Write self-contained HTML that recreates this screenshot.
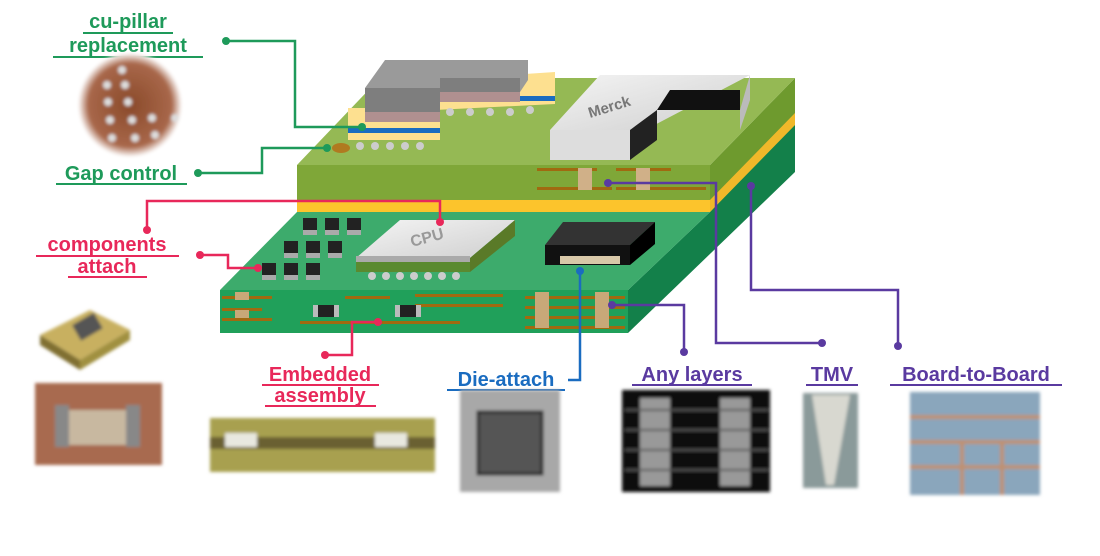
<!DOCTYPE html>
<html><head><meta charset="utf-8"><style>
html,body{margin:0;padding:0;background:#fff;}
svg{display:block}
text{font-family:"Liberation Sans",sans-serif;font-weight:bold;}
</style></head><body>
<svg width="1100" height="556" viewBox="0 0 1100 556" xmlns="http://www.w3.org/2000/svg">
<defs>
<radialGradient id="cu" cx="50%" cy="50%" r="50%"><stop offset="0" stop-color="#8a4a2a"/><stop offset="0.8" stop-color="#a8674a"/><stop offset="1" stop-color="#fff"/></radialGradient>
<linearGradient id="wt" x1="0" y1="0" x2="1" y2="1"><stop offset="0" stop-color="#f4f4f4"/><stop offset="1" stop-color="#cfcfcf"/></linearGradient>
<filter id="bl"><feGaussianBlur stdDeviation="1.5"/></filter>
</defs>

<!-- lower board -->
<polygon points="628,290 628,333 795,172 795,120 710,212" fill="#13804a"/>
<polygon points="220,290 628,290 710,212 297,212" fill="#3dab6c"/>
<rect x="220" y="290" width="408" height="43" fill="#20a05a"/>
<g fill="#a06a10">
<rect x="222" y="296" width="50" height="3"/><rect x="222" y="318" width="50" height="3"/><rect x="222" y="308" width="40" height="3"/>
<rect x="345" y="296" width="45" height="3"/><rect x="415" y="294" width="88" height="3"/><rect x="415" y="304" width="88" height="3"/>
<rect x="300" y="321" width="160" height="3"/><rect x="525" y="296" width="100" height="3"/><rect x="525" y="306" width="100" height="3"/>
<rect x="525" y="316" width="100" height="3"/><rect x="525" y="326" width="100" height="3"/></g>
<g fill="#c8a878"><rect x="235" y="292" width="14" height="8"/><rect x="235" y="310" width="14" height="8"/>
<rect x="535" y="292" width="14" height="36"/><rect x="595" y="292" width="14" height="36"/></g>
<rect x="318" y="305" width="16" height="12" fill="#222"/><rect x="313" y="305" width="5" height="12" fill="#bbb"/><rect x="334" y="305" width="5" height="12" fill="#bbb"/>
<rect x="400" y="305" width="16" height="12" fill="#222"/><rect x="395" y="305" width="5" height="12" fill="#bbb"/><rect x="416" y="305" width="5" height="12" fill="#bbb"/>
<g>
<rect x="303" y="218" width="14" height="12" fill="#222"/><rect x="325" y="218" width="14" height="12" fill="#222"/><rect x="347" y="218" width="14" height="12" fill="#222"/>
<rect x="284" y="241" width="14" height="12" fill="#222"/><rect x="306" y="241" width="14" height="12" fill="#222"/><rect x="328" y="241" width="14" height="12" fill="#222"/>
<rect x="262" y="263" width="14" height="12" fill="#222"/><rect x="284" y="263" width="14" height="12" fill="#222"/><rect x="306" y="263" width="14" height="12" fill="#222"/>
<rect x="303" y="230" width="14" height="5" fill="#aaa"/><rect x="325" y="230" width="14" height="5" fill="#aaa"/><rect x="347" y="230" width="14" height="5" fill="#aaa"/>
<rect x="284" y="253" width="14" height="5" fill="#aaa"/><rect x="306" y="253" width="14" height="5" fill="#aaa"/><rect x="328" y="253" width="14" height="5" fill="#aaa"/>
<rect x="262" y="275" width="14" height="5" fill="#aaa"/><rect x="284" y="275" width="14" height="5" fill="#aaa"/><rect x="306" y="275" width="14" height="5" fill="#aaa"/>
</g>
<!-- CPU -->
<polygon points="356,258 470,258 470,272 356,272" fill="#5a8a30"/>
<polygon points="356,258 470,258 515,220 400,220" fill="url(#wt)"/>
<polygon points="470,258 515,220 515,236 470,272" fill="#5a7a28"/>
<rect x="356" y="256" width="114" height="6" fill="#aaa"/>
<text x="412" y="247" font-size="16" fill="#999" transform="rotate(-15 412 247)">CPU</text>
<g fill="#ccc"><circle cx="372" cy="276" r="4"/><circle cx="386" cy="276" r="4"/><circle cx="400" cy="276" r="4"/><circle cx="414" cy="276" r="4"/><circle cx="428" cy="276" r="4"/><circle cx="442" cy="276" r="4"/><circle cx="456" cy="276" r="4"/></g>
<!-- black chip -->
<polygon points="545,245 630,245 655,222 563,222" fill="#333"/>
<rect x="545" y="245" width="85" height="20" fill="#111"/>
<polygon points="630,245 655,222 655,244 630,265" fill="#000"/>
<rect x="560" y="256" width="60" height="8" fill="#d8c8a8"/>

<!-- upper board -->
<polygon points="710,165 710,212 795,125 795,78" fill="#6e9a2e"/>
<polygon points="710,200 710,212 795,125 795,113" fill="#f0b82a"/>
<polygon points="297,165 710,165 795,78 380,78" fill="#95b954"/>
<rect x="297" y="165" width="413" height="36" fill="#7fa738"/>
<rect x="297" y="200" width="413" height="12" fill="#fcc42c"/>
<g fill="#a06a10"><rect x="537" y="187" width="75" height="3"/><rect x="616" y="187" width="90" height="3"/><rect x="537" y="168" width="60" height="3"/><rect x="616" y="168" width="55" height="3"/></g>
<rect x="578" y="168" width="14" height="22" fill="#d0b088"/><rect x="636" y="168" width="14" height="22" fill="#d0b088"/>
<!-- Merck -->
<polygon points="550,160 630,160 630,130 550,130" fill="#ddd"/>
<polygon points="550,130 645,130 750,75 600,75" fill="url(#wt)"/>
<polygon points="630,130 630,160 657,140 657,110" fill="#222"/>
<polygon points="657,110 740,110 740,90 670,90" fill="#111"/>
<polygon points="740,110 750,75 750,100 740,130" fill="#bbb"/>
<text x="590" y="118" font-size="15" fill="#777" transform="rotate(-17 590 118)">Merck</text>
<!-- stepped substrate + grey package -->
<polygon points="348,108 440,108 440,140 348,140" fill="#fde090"/>
<rect x="348" y="128" width="92" height="5" fill="#1a6cc0"/>
<polygon points="435,80 555,72 555,104 435,110" fill="#fde090"/>
<rect x="435" y="96" width="120" height="5" fill="#1a6cc0"/>
<polygon points="365,88 385,60 528,60 528,80 520,92 440,92 440,112 365,112" fill="#9a9a9a"/>
<polygon points="365,88 440,88 440,112 365,112" fill="#7e7e7e"/>
<polygon points="440,78 520,78 520,92 440,92" fill="#7e7e7e"/>
<rect x="365" y="112" width="75" height="10" fill="#b09090"/><rect x="440" y="92" width="80" height="10" fill="#b09090"/>
<g fill="#ccc"><circle cx="360" cy="146" r="4"/><circle cx="375" cy="146" r="4"/><circle cx="390" cy="146" r="4"/><circle cx="405" cy="146" r="4"/><circle cx="420" cy="146" r="4"/><circle cx="450" cy="112" r="4"/><circle cx="470" cy="112" r="4"/><circle cx="490" cy="112" r="4"/><circle cx="510" cy="112" r="4"/><circle cx="530" cy="110" r="4"/></g>
<ellipse cx="341" cy="148" rx="9" ry="5" fill="#b07a20"/>

<!-- connectors -->
<g fill="none" stroke-width="2.5">
<polyline points="226,41 295,41 295,127 362,127" stroke="#1e9a5a"/>
<polyline points="198,173 262,173 262,148 327,148" stroke="#1e9a5a"/>
<polyline points="147,230 147,201 440,201 440,222" stroke="#e8285a"/>
<polyline points="200,255 228,255 228,268 258,268" stroke="#e8285a"/>
<polyline points="325,355 352,355 352,322 378,322" stroke="#e8285a"/>
<polyline points="580,271 580,380 568,380" stroke="#1a6cc0"/>
<polyline points="612,305 684,305 684,352" stroke="#5a3aa0"/>
<polyline points="608,183 716,183 716,343 822,343" stroke="#5a3aa0"/>
<polyline points="751,186 751,290 898,290 898,346" stroke="#5a3aa0"/>
</g>
<g>
<circle cx="226" cy="41" r="4" fill="#1e9a5a"/><circle cx="362" cy="127" r="4" fill="#1e9a5a"/>
<circle cx="198" cy="173" r="4" fill="#1e9a5a"/><circle cx="327" cy="148" r="4" fill="#1e9a5a"/>
<circle cx="147" cy="230" r="4" fill="#e8285a"/><circle cx="440" cy="222" r="4" fill="#e8285a"/>
<circle cx="200" cy="255" r="4" fill="#e8285a"/><circle cx="258" cy="268" r="4" fill="#e8285a"/>
<circle cx="325" cy="355" r="4" fill="#e8285a"/><circle cx="378" cy="322" r="4" fill="#e8285a"/>
<circle cx="580" cy="271" r="4" fill="#1a6cc0"/>
<circle cx="612" cy="305" r="4" fill="#5a3aa0"/><circle cx="684" cy="352" r="4" fill="#5a3aa0"/>
<circle cx="608" cy="183" r="4" fill="#5a3aa0"/><circle cx="822" cy="343" r="4" fill="#5a3aa0"/>
<circle cx="751" cy="186" r="4" fill="#5a3aa0"/><circle cx="898" cy="346" r="4" fill="#5a3aa0"/>
</g>

<!-- labels -->
<g font-size="20" text-anchor="middle">
<text x="128" y="28" fill="#1e9a5a">cu-pillar</text><rect x="83" y="32" width="90" height="2" fill="#1e9a5a"/>
<text x="128" y="52" fill="#1e9a5a">replacement</text><rect x="53" y="56" width="150" height="2" fill="#1e9a5a"/>
<text x="121" y="180" fill="#1e9a5a">Gap control</text><rect x="56" y="183" width="131" height="2" fill="#1e9a5a"/>
<text x="107" y="251" fill="#e8285a">components</text><rect x="36" y="255" width="143" height="2" fill="#e8285a"/>
<text x="107" y="273" fill="#e8285a">attach</text><rect x="68" y="276" width="79" height="2" fill="#e8285a"/>
<text x="320" y="381" fill="#e8285a">Embedded</text><rect x="262" y="384" width="117" height="2" fill="#e8285a"/>
<text x="320" y="402" fill="#e8285a">assembly</text><rect x="265" y="405" width="111" height="2" fill="#e8285a"/>
<text x="506" y="386" fill="#1a6cc0">Die-attach</text><rect x="447" y="389" width="118" height="2" fill="#1a6cc0"/>
<text x="692" y="381" fill="#5a3aa0">Any layers</text><rect x="632" y="384" width="120" height="2" fill="#5a3aa0"/>
<text x="832" y="381" fill="#5a3aa0">TMV</text><rect x="806" y="384" width="52" height="2" fill="#5a3aa0"/>
<text x="976" y="381" fill="#5a3aa0">Board-to-Board</text><rect x="890" y="384" width="172" height="2" fill="#5a3aa0"/>
</g>

<!-- photos -->
<g filter="url(#bl)">
<circle cx="130" cy="105" r="52" fill="url(#cu)"/>
<g fill="#ddd"><circle cx="122" cy="70" r="4"/><circle cx="107" cy="85" r="4"/><circle cx="125" cy="85" r="4"/><circle cx="108" cy="102" r="4"/><circle cx="128" cy="102" r="4"/><circle cx="110" cy="120" r="4"/><circle cx="132" cy="120" r="4"/><circle cx="152" cy="118" r="4"/><circle cx="112" cy="138" r="4"/><circle cx="135" cy="138" r="4"/><circle cx="155" cy="135" r="4"/><circle cx="175" cy="118" r="4"/></g>
<polygon points="40,335 90,310 130,330 80,360" fill="#c8b060"/>
<polygon points="40,335 80,360 80,370 40,345" fill="#807030"/><polygon points="80,360 130,330 130,340 80,370" fill="#a09040"/>
<rect x="75" y="318" width="25" height="18" fill="#555" transform="rotate(-30 87 327)"/>
<rect x="35" y="383" width="127" height="82" fill="#a86a50"/>
<rect x="60" y="410" width="75" height="35" fill="#c8b8a0"/><rect x="55" y="405" width="14" height="42" fill="#888"/><rect x="126" y="405" width="14" height="42" fill="#888"/>
<rect x="210" y="418" width="225" height="54" fill="#a8a050"/>
<rect x="210" y="437" width="225" height="12" fill="#6a6030"/>
<rect x="225" y="433" width="32" height="14" fill="#e8e8e0"/><rect x="375" y="433" width="32" height="14" fill="#e8e8e0"/>
<rect x="460" y="390" width="100" height="102" fill="#a8a8a8"/>
<rect x="478" y="412" width="64" height="62" fill="#555" stroke="#222" stroke-width="3"/>
<rect x="622" y="390" width="148" height="102" fill="#111"/>
<g fill="#999"><rect x="640" y="398" width="30" height="88"/><rect x="720" y="398" width="30" height="88"/></g>
<g stroke="#555" stroke-width="2"><line x1="625" y1="410" x2="768" y2="410"/><line x1="625" y1="430" x2="768" y2="430"/><line x1="625" y1="450" x2="768" y2="450"/><line x1="625" y1="470" x2="768" y2="470"/></g>
<rect x="803" y="393" width="55" height="95" fill="#8a9a9a"/>
<polygon points="812,395 850,395 834,485 826,485" fill="#d8d8d0"/>
<rect x="910" y="392" width="130" height="103" fill="#8aa6bc"/>
<g fill="#c09070"><rect x="910" y="415" width="130" height="4"/><rect x="910" y="440" width="130" height="4"/><rect x="910" y="465" width="130" height="4"/><rect x="960" y="440" width="4" height="55"/><rect x="1000" y="440" width="4" height="55"/></g>
</g>
</svg>
</body></html>
